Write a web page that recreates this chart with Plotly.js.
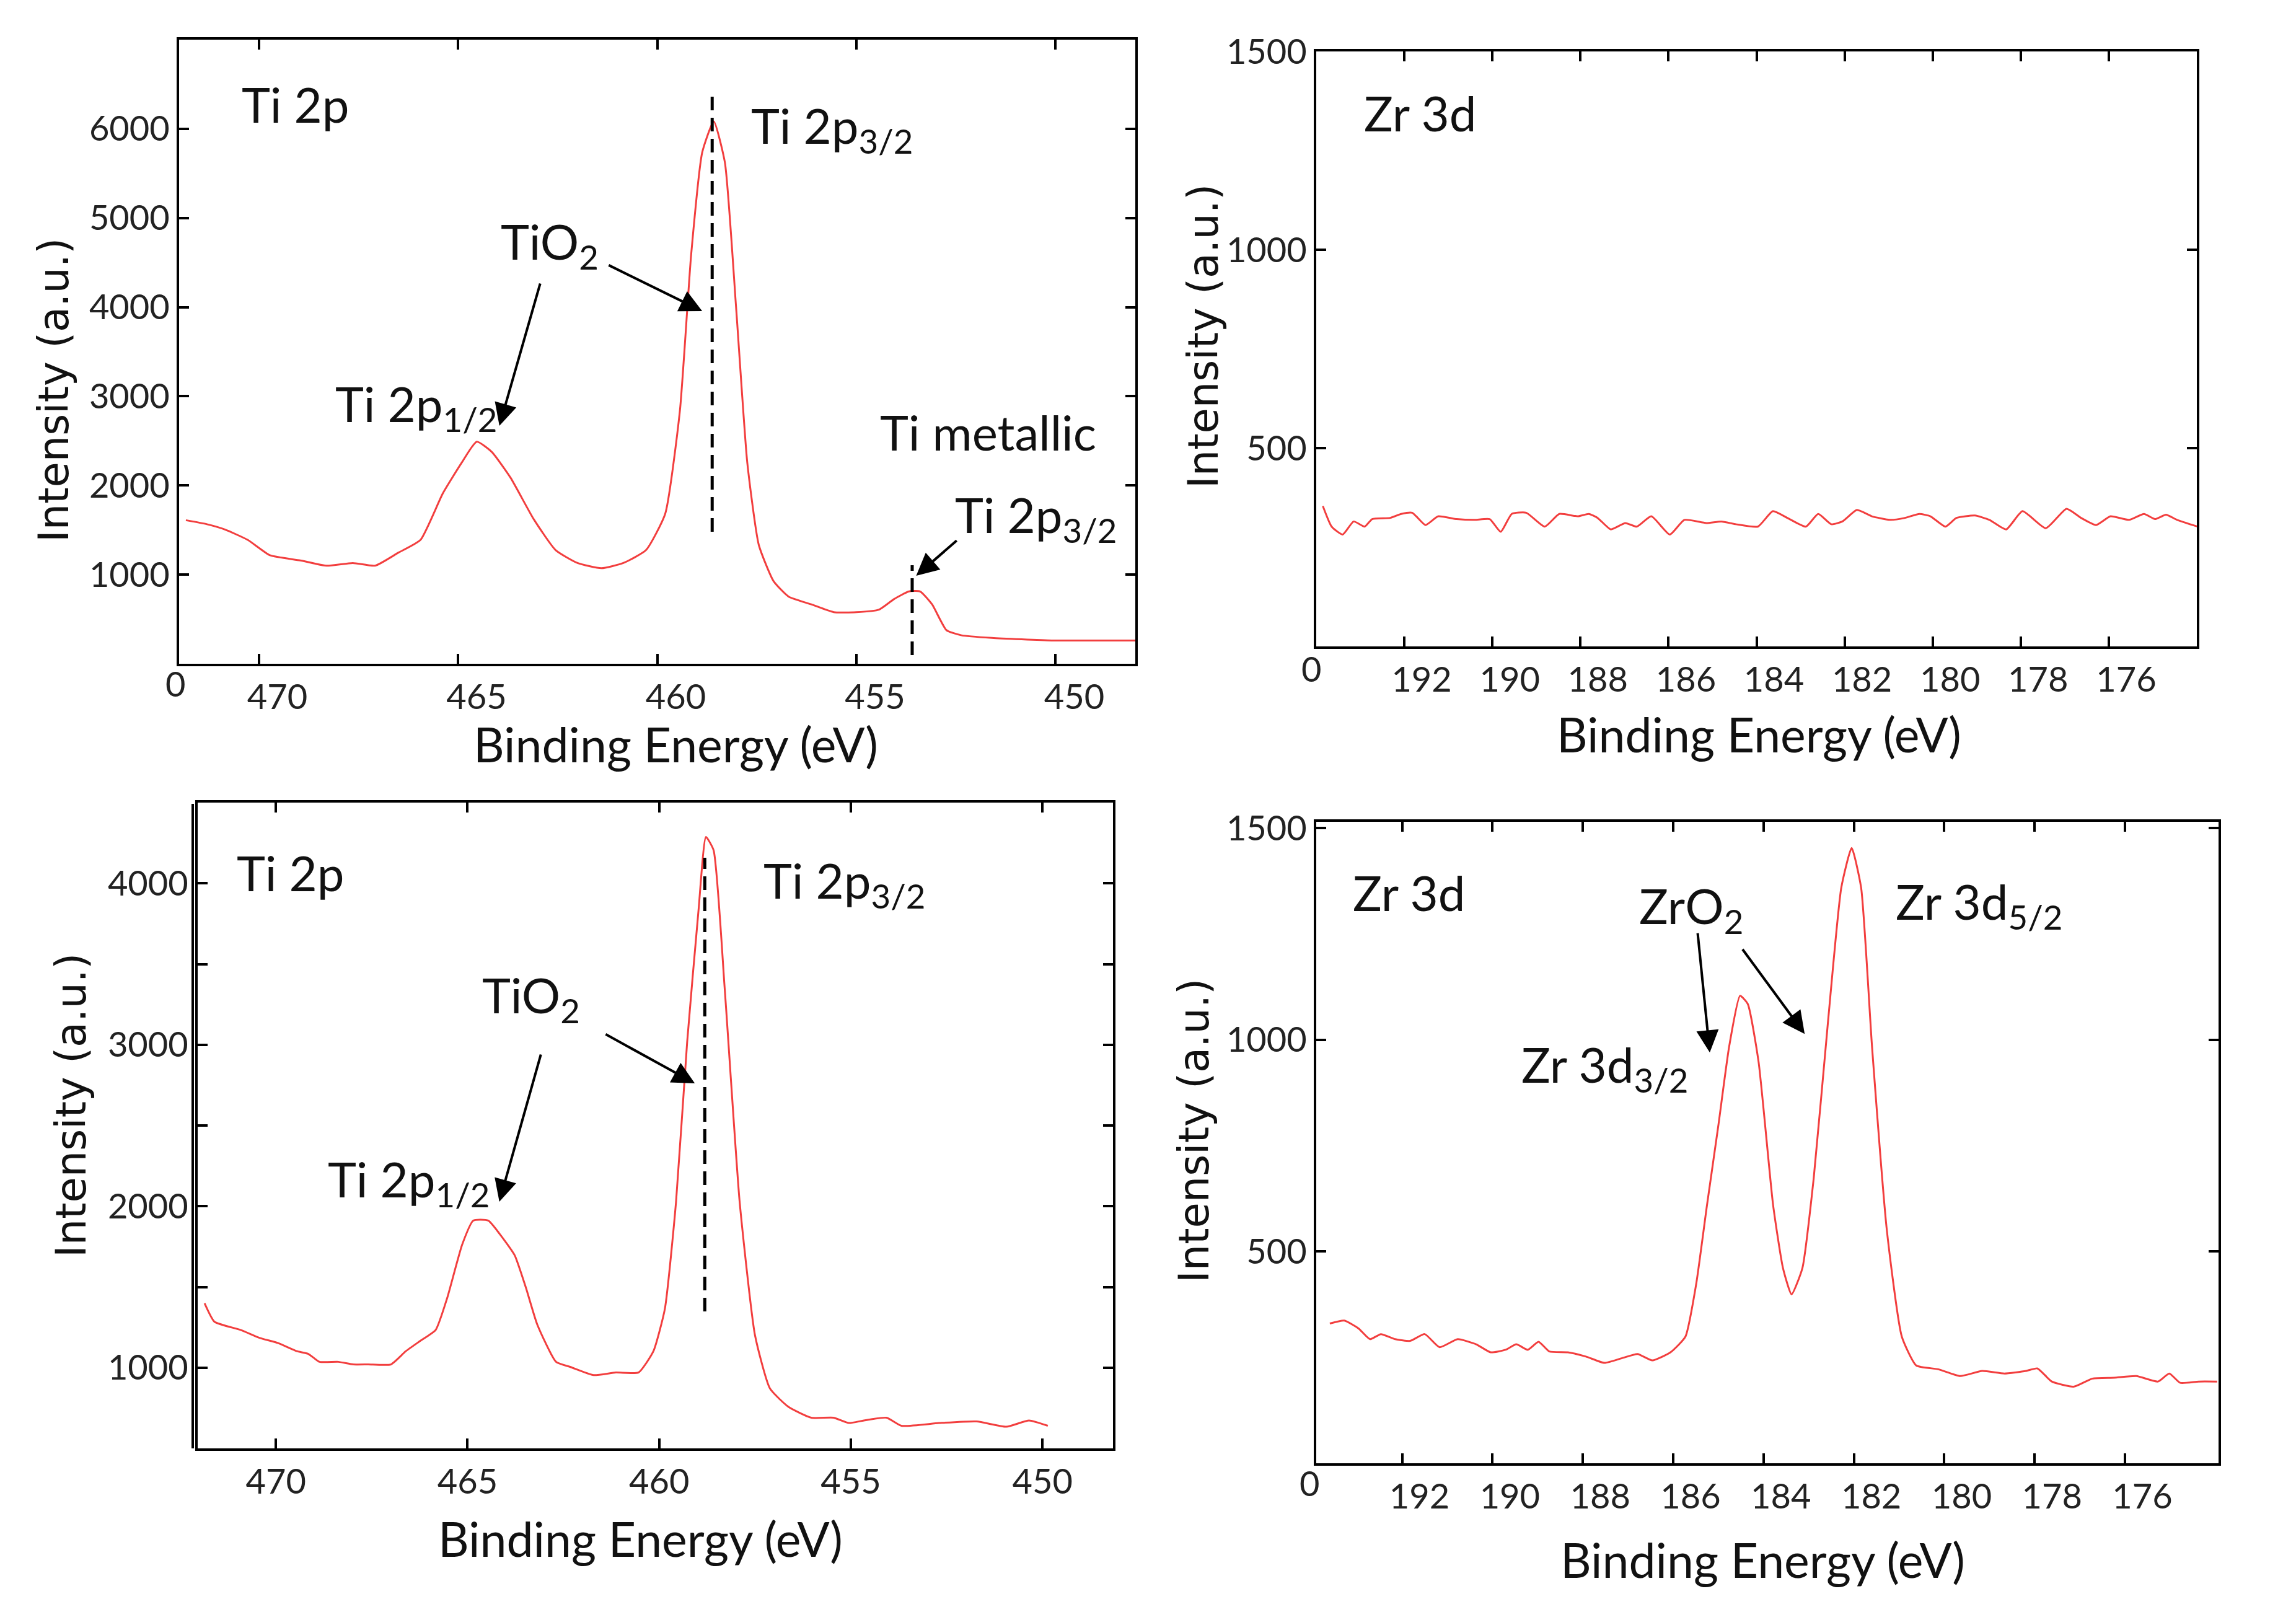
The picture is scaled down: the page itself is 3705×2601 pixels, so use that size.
<!DOCTYPE html>
<html>
<head>
<meta charset="utf-8">
<script src="https://cdn.plot.ly/plotly-3.0.1.min.js"></script>
<style>
  html, body { margin: 0; padding: 0; background: #fff; }
  #xpsDiv { width: 3705px; height: 2601px; }
</style>
</head>
<body>
<div id="xpsDiv"></div>
<script>
"use strict";

// Ti 2p, top panel (binding energy eV / intensity)
const tiTopEnergy = [471.83, 471.3, 470.85, 470.28, 469.72, 468.96, 468.3, 467.64, 467.08, 466.5,
    465.94, 465.38, 464.9, 464.53, 464.15, 463.68, 463.1, 462.55, 462.0, 461.4,
    460.85, 460.28, 459.8, 459.43, 459.15, 458.87, 458.58, 458.3, 458.02, 457.74,
    457.45, 457.08, 456.7, 456.13, 455.57, 455.0, 454.43, 454.06, 453.68, 453.4,
    453.1, 452.74, 452.36, 451.6, 450.1, 449.15, 448.0];
const tiTopIntensity = [1610, 1565, 1506, 1390, 1217, 1159, 1100, 1130, 1100, 1245,
    1390, 1912, 2260, 2491, 2375, 2086, 1622, 1275, 1130, 1072,
    1130, 1275, 1680, 2839, 4577, 5736, 6083, 5620, 3998, 2260,
    1333, 927, 753, 666, 579, 579, 608, 724, 811, 811,
    666, 377, 319, 290, 261, 261, 261];

// Zr 3d, top panel (no signal)
const zrTopEnergy = [193.85, 193.65, 193.4, 193.15, 192.9, 192.73, 192.32, 192.07, 191.82, 191.52,
    191.23, 190.81, 190.4, 190.06, 189.81, 189.56, 189.23, 188.81, 188.48, 188.06,
    187.81, 187.61, 187.31, 186.98, 186.72, 186.39, 185.97, 185.64, 185.14, 184.8,
    184.47, 183.97, 183.63, 183.3, 182.88, 182.6, 182.3, 182.05, 181.72, 181.38,
    180.96, 180.63, 180.3, 180.05, 179.71, 179.46, 179.04, 178.71, 178.33, 177.96,
    177.43, 176.96, 176.63, 176.29, 175.96, 175.54, 175.2, 174.95, 174.7, 174.45, 173.98];
const zrTopIntensity = [354, 302, 282, 315, 302, 321, 324, 334, 337, 306,
    328, 321, 319, 321, 289, 334, 337, 302, 334, 328,
    334, 324, 295, 311, 302, 328, 282, 319, 311, 315,
    308, 302, 341, 324, 302, 334, 308, 315, 344, 328,
    319, 324, 334, 328, 302, 324, 330, 319, 295, 341,
    298, 347, 324, 306, 328, 319, 334, 321, 332, 319, 302];

// Ti 2p, bottom panel
const tiBottomEnergy = [471.86, 471.6, 470.92, 470.43, 469.94, 469.45, 469.16, 468.86, 468.37, 467.98,
    467.59, 467.0, 466.61, 466.22, 465.83, 465.53, 465.14, 464.85, 464.46, 464.16,
    463.77, 463.48, 463.18, 462.69, 462.3, 461.71, 461.13, 460.54, 460.15, 459.85,
    459.56, 459.27, 458.97, 458.78, 458.58, 458.29, 457.9, 457.5, 457.11, 456.62,
    456.03, 455.45, 455.05, 454.66, 454.07, 453.68, 452.7, 451.72, 450.94, 450.35, 449.86];
const tiBottomIntensity = [1399, 1284, 1234, 1185, 1152, 1102, 1086, 1036, 1036, 1020,
    1020, 1020, 1102, 1168, 1234, 1432, 1762, 1911, 1911, 1828,
    1696, 1498, 1267, 1036, 1003, 954, 970, 970, 1102, 1366,
    2026, 3017, 3842, 4287, 4205, 3347, 2026, 1201, 871, 756,
    690, 690, 657, 673, 690, 640, 657, 667, 634, 673, 640];

// Zr 3d, bottom panel
const zrBottomEnergy = [193.6, 193.28, 192.96, 192.71, 192.47, 192.15, 191.82, 191.5, 191.17, 190.77,
    190.36, 190.04, 189.71, 189.47, 189.22, 188.98, 188.74, 188.33, 187.93, 187.52,
    187.11, 186.79, 186.46, 186.06, 185.73, 185.49, 185.25, 185.0, 184.76, 184.52,
    184.35, 184.11, 183.79, 183.57, 183.38, 183.14, 182.89, 182.57, 182.28, 182.05,
    181.84, 181.6, 181.27, 180.94, 180.62, 180.13, 179.65, 179.16, 178.67, 178.19,
    177.94, 177.62, 177.13, 176.72, 176.24, 175.75, 175.27, 175.02, 174.78, 174.37, 173.96];
const zrBottomIntensity = [330, 337, 318, 293, 305, 293, 289, 305, 274, 293,
    281, 262, 268, 281, 268, 287, 264, 262, 252, 237,
    249, 258, 243, 262, 299, 424, 611, 798, 985, 1104,
    1085, 948, 611, 461, 399, 461, 673, 1047, 1359, 1453,
    1359, 985, 549, 299, 231, 222, 206, 218, 212, 218,
    224, 193, 181, 200, 202, 206, 193, 212, 190, 193, 193];

const tiXTicks = [470, 465, 460, 455, 450];
const zrXTicks = [192, 190, 188, 186, 184, 182, 180, 178, 176];
const tiTopYTicks = [1000, 2000, 3000, 4000, 5000, 6000];
const tiBottomYTicks = [1000, 1500, 2000, 2500, 3000, 3500, 4000];
const tiBottomYText = ["1000", "", "2000", "", "3000", "", "4000"];
const zrYTicks = [500, 1000, 1500];

const W = 3705, H = 2601;
const lineColor = "rgb(242,62,62)";
const labelFont = { family: "Lato, 'Open Sans', sans-serif", size: 78, color: "#111" };
const tickFont = { family: "Lato, 'Open Sans', sans-serif", size: 56, color: "#222" };
const titleFontX = { family: "Lato, 'Open Sans', sans-serif", size: 77, color: "#111" };
const titleFontY = { family: "'DejaVu Sans', sans-serif", size: 67, color: "#111" };
const dashLine = { color: "#000", width: 5, dash: "22px,12px" };

function px(x) { return x / W; }
function py(y) { return 1 - y / H; }

function baseAxis(extra) {
    return Object.assign({
        showline: true, linecolor: "#000", linewidth: 4, mirror: "ticks",
        ticks: "inside", ticklen: 16, tickwidth: 4, tickcolor: "#000",
        showgrid: false, zeroline: false, tickfont: tickFont
    }, extra);
}

const traces = [
    { x: tiTopEnergy, y: tiTopIntensity, xaxis: "x", yaxis: "y" },
    { x: zrTopEnergy, y: zrTopIntensity, xaxis: "x2", yaxis: "y2" },
    { x: tiBottomEnergy, y: tiBottomIntensity, xaxis: "x3", yaxis: "y3" },
    { x: zrBottomEnergy, y: zrBottomIntensity, xaxis: "x4", yaxis: "y4" }
].map(function (t) {
    return Object.assign(t, {
        type: "scatter", mode: "lines", hoverinfo: "skip",
        line: { color: lineColor, width: 3, shape: "spline", smoothing: 0.5 }
    });
});

const layout = {
    width: W, height: H,
    margin: { l: 0, r: 0, t: 0, b: 0 },
    paper_bgcolor: "#fff", plot_bgcolor: "#fff",
    showlegend: false,
    xaxis: baseAxis({ domain: [px(289), px(1832)], range: [472, 448], anchor: "y",
        tickvals: tiXTicks, ticklabelshift: -30, ticklabelstandoff: 2 }),
    yaxis: baseAxis({ domain: [py(1071), py(64)], range: [0, 7000], anchor: "x",
        tickvals: tiTopYTicks }),
    xaxis2: baseAxis({ domain: [px(2124), px(3545)], range: [194, 174], anchor: "y2",
        tickvals: zrXTicks, ticklabelshift: -28, ticklabelstandoff: 2 }),
    yaxis2: baseAxis({ domain: [py(1043), py(83)], range: [0, 1500], anchor: "x2",
        tickvals: zrYTicks }),
    xaxis3: baseAxis({ domain: [px(319), px(1796)], range: [472.04, 448.16], anchor: "y3",
        tickvals: tiXTicks, ticklabelstandoff: 2 }),
    yaxis3: baseAxis({ domain: [py(2337), py(1295)], range: [500, 4500], anchor: "x3",
        tickvals: tiBottomYTicks, ticktext: tiBottomYText }),
    xaxis4: baseAxis({ domain: [px(2124), px(3580)], range: [193.9, 173.93], anchor: "y4",
        tickvals: zrXTicks, ticklabelshift: -28, ticklabelstandoff: 2 }),
    yaxis4: baseAxis({ domain: [py(2361), py(1326)], range: [0, 1515], anchor: "x4",
        tickvals: zrYTicks }),
    shapes: [
        { type: "line", xref: "x", yref: "y", x0: 458.62, x1: 458.62, y0: 1481, y1: 6381, line: dashLine },
        { type: "line", xref: "x", yref: "y", x0: 453.6, x1: 453.6, y0: 97, y1: 1105, line: dashLine },
        { type: "line", xref: "x3", yref: "y3", x0: 458.81, x1: 458.81, y0: 1348, y1: 4158, line: dashLine },
        // doubled left frame line of the lower Ti panel
        { type: "line", xref: "paper", yref: "paper", x0: px(311), x1: px(311), y0: py(2337), y1: py(1297),
          line: { color: "#000", width: 4 } }
    ],
    annotations: []
};

function label(text, x, y, xref, yref, font) {
    layout.annotations.push({ text: text, x: x, y: y, xref: xref, yref: yref,
        xanchor: "left", yanchor: "middle", showarrow: false, font: font || labelFont });
}
function arrow(xHead, yHead, xTail, yTail, xref, yref) {
    layout.annotations.push({ text: "", x: xHead, y: yHead, ax: xTail, ay: yTail,
        xref: xref, yref: yref, axref: xref, ayref: yref, showarrow: true,
        arrowhead: 2, arrowsize: 1.8, arrowwidth: 4, arrowcolor: "#000" });
}
function paperText(text, x, y, font, angle) {
    layout.annotations.push({ text: text, x: px(x), y: py(y), xref: "paper", yref: "paper",
        xanchor: "center", yanchor: "middle", showarrow: false, font: font, textangle: angle || 0 });
}

// top-left: Ti 2p
label("Ti 2p", 470.46, 6277, "x", "y");
label("Ti 2p<sub>3/2</sub>", 457.67, 6000, "x", "y");
label("TiO<sub>2</sub>", 463.96, 4700, "x", "y");
label("Ti 2p<sub>1/2</sub>", 468.11, 2880, "x", "y");
label("Ti metallic", 454.44, 2600, "x", "y");
label("Ti 2p<sub>3/2</sub>", 452.56, 1640, "x", "y");
arrow(458.87, 3955, 461.24, 4476, "x", "y");
arrow(463.96, 2669, 462.93, 4275, "x", "y");
arrow(453.5, 987, 452.46, 1390, "x", "y");

// top-right: Zr 3d
label("Zr 3d", 192.94, 1345, "x2", "y2");

// bottom-left: Ti 2p
label("Ti 2p", 471.05, 4066, "x3", "y3");
label("Ti 2p<sub>3/2</sub>", 457.31, 4000, "x3", "y3");
label("TiO<sub>2</sub>", 464.65, 3290, "x3", "y3");
label("Ti 2p<sub>1/2</sub>", 468.68, 2150, "x3", "y3");
arrow(459.07, 2761, 461.42, 3068, "x3", "y3");
arrow(464.17, 2028, 463.08, 2945, "x3", "y3");

// bottom-right: Zr 3d
label("Zr 3d", 193.12, 1348, "x4", "y4");
label("ZrO<sub>2</sub>", 186.78, 1310, "x4", "y4");
label("Zr 3d<sub>5/2</sub>", 181.1, 1320, "x4", "y4");
label("Zr 3d<sub>3/2</sub>", 189.39, 935, "x4", "y4");
arrow(185.19, 970, 185.46, 1254, "x4", "y4");
arrow(183.09, 1014, 184.48, 1216, "x4", "y4");

// axis titles
paperText("Binding Energy (eV)", 1090, 1200, titleFontX);
paperText("Binding Energy (eV)", 2838, 1184, titleFontX);
paperText("Binding Energy (eV)", 1033, 2482, titleFontX);
paperText("Binding Energy (eV)", 2844, 2516, titleFontX);
paperText("Intensity (a.u.)", 87, 630, titleFontY, -90);
paperText("Intensity (a.u.)", 1942, 543, titleFontY, -90);
paperText("Intensity (a.u.)", 115, 1784, titleFontY, -90);
paperText("Intensity (a.u.)", 1927, 1825, titleFontY, -90);

// stray origin zeros under the corners
paperText("0", 283, 1102, tickFont);
paperText("0", 2116, 1078, tickFont);
paperText("0", 2113, 2392, tickFont);

Plotly.newPlot("xpsDiv", traces, layout, { staticPlot: true, displayModeBar: false });
</script>
</body>
</html>
